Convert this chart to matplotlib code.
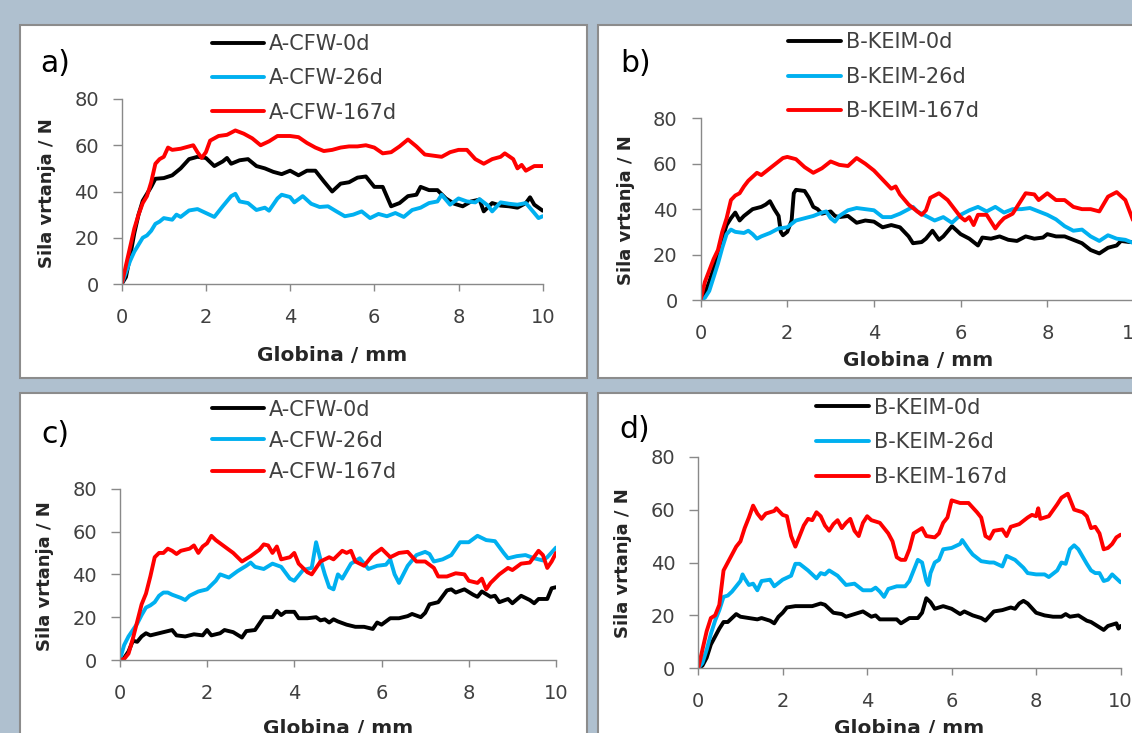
import matplotlib.pyplot as plt
from matplotlib.patches import Rectangle

# figure size in pixels (dpi 100)
W, H = 1132, 733

# ---- data: (globina mm, sila N) ----
A1_0D = [(0, 0), (0.1, 3), (0.2, 12), (0.3, 22), (0.4, 30), (0.5, 36), (0.6, 39), (0.7, 42), (0.8, 45.5),
         (1.0, 45.8), (1.2, 47), (1.4, 50), (1.6, 54), (1.8, 55), (2.0, 54.5), (2.2, 51), (2.4, 53), (2.5, 54.5),
         (2.6, 52), (2.8, 53.5), (3.0, 54), (3.2, 51), (3.4, 50), (3.6, 48.5), (3.8, 47.5), (4.0, 49), (4.2, 47),
         (4.4, 49), (4.6, 49), (4.8, 44.4), (5.0, 40), (5.2, 43.4), (5.4, 44), (5.6, 46), (5.8, 46.5), (6.0, 42),
         (6.2, 42), (6.4, 33.6), (6.6, 35), (6.8, 38), (7.0, 38.6), (7.1, 42), (7.3, 40.6), (7.5, 40.6), (7.7, 37),
         (7.9, 34.7), (8.1, 33.6), (8.3, 35.7), (8.5, 36.5), (8.6, 31.4), (8.8, 35), (9.0, 33.9), (9.2, 33.6),
         (9.4, 33), (9.6, 35), (9.7, 37.5), (9.8, 34.3), (10, 31.7)]
A1_26D = [(0, 0), (0.1, 5), (0.2, 10), (0.3, 14), (0.4, 17), (0.5, 20), (0.6, 21), (0.7, 23), (0.8, 26), (0.9, 27),
          (1.0, 28.5), (1.2, 27.8), (1.3, 30), (1.4, 29), (1.6, 31.8), (1.8, 32.4), (2.0, 30.7), (2.2, 29),
          (2.4, 33.6), (2.6, 38), (2.7, 39), (2.8, 35.7), (3.0, 35), (3.2, 32), (3.4, 33), (3.5, 31.7), (3.7, 37),
          (3.8, 38.6), (4.0, 37.6), (4.1, 35.3), (4.3, 38), (4.5, 34.7), (4.7, 33.3), (4.9, 33.6), (5.1, 31.4),
          (5.3, 29.3), (5.5, 30), (5.7, 31.4), (5.9, 28.5), (6.1, 30.3), (6.3, 29.3), (6.5, 30.7), (6.7, 29),
          (6.9, 32), (7.1, 33), (7.3, 35), (7.5, 35.7), (7.6, 38.6), (7.8, 34.3), (8.0, 37), (8.2, 35.7),
          (8.4, 35.3), (8.5, 36.7), (8.7, 33.9), (8.8, 31.4), (9.0, 35.3), (9.2, 34.7), (9.4, 34.3), (9.6, 35),
          (9.8, 30.7), (9.9, 28.5), (10, 29.3)]
A1_167D = [(0, 0), (0.1, 8), (0.2, 16), (0.3, 24), (0.4, 30), (0.5, 35), (0.6, 38), (0.7, 44), (0.8, 52), (0.9, 54),
           (1.0, 55), (1.1, 59), (1.2, 58), (1.4, 58.5), (1.6, 59.5), (1.7, 60), (1.8, 57), (1.9, 54.5), (2.0, 57),
           (2.1, 62), (2.3, 64), (2.5, 64.5), (2.7, 66.4), (2.9, 65), (3.1, 63), (3.3, 60), (3.5, 61.7), (3.7, 64),
           (4.0, 64), (4.2, 63.5), (4.4, 61), (4.6, 59), (4.8, 57.5), (5.0, 58), (5.2, 59), (5.4, 59.5),
           (5.6, 59.5), (5.8, 60), (6.0, 59), (6.2, 56.5), (6.4, 57), (6.6, 59.5), (6.8, 62.5), (7.0, 59.5),
           (7.2, 56), (7.4, 55.5), (7.6, 55), (7.8, 57), (8.0, 58), (8.2, 58), (8.4, 54), (8.6, 52), (8.8, 54),
           (9.0, 55), (9.1, 56.5), (9.3, 54), (9.4, 50), (9.5, 51.5), (9.6, 49), (9.8, 51), (10, 51)]

B1_0D = [(0, 0), (0.1, 3), (0.2, 8), (0.3, 14), (0.4, 20), (0.5, 27), (0.6, 33), (0.7, 36), (0.8, 38.5), (0.9, 35),
         (1.0, 37), (1.1, 38.5), (1.2, 40), (1.4, 41), (1.5, 42), (1.6, 43.5), (1.7, 40), (1.8, 37), (1.85, 30),
         (1.9, 28.5), (2.0, 30), (2.1, 35), (2.15, 47), (2.2, 48.5), (2.4, 48), (2.5, 45), (2.6, 41), (2.7, 40),
         (2.8, 38), (3.0, 39), (3.1, 37), (3.2, 36.5), (3.4, 37), (3.6, 34), (3.8, 35), (4.0, 34.5), (4.2, 32),
         (4.4, 33), (4.6, 32), (4.8, 28), (4.9, 25), (5.1, 25.5), (5.2, 27), (5.35, 30.5), (5.5, 26.5), (5.6, 28),
         (5.8, 32.5), (6.0, 29), (6.2, 27), (6.4, 24), (6.5, 27.5), (6.7, 27), (6.9, 28), (7.1, 26.5), (7.3, 26),
         (7.5, 28), (7.7, 27), (7.9, 27.5), (8.0, 29), (8.2, 28), (8.4, 28), (8.6, 26.5), (8.8, 25), (9.0, 22),
         (9.2, 20.5), (9.4, 23), (9.6, 24), (9.7, 26), (9.9, 25.5), (10, 25.5)]
B1_26D = [(0, 0), (0.1, 1), (0.2, 4), (0.3, 10), (0.4, 16), (0.5, 23), (0.6, 29), (0.7, 31), (0.8, 30), (1.0, 29.5),
          (1.1, 30.5), (1.2, 29), (1.3, 27), (1.4, 28), (1.6, 29.5), (1.8, 31.5), (2.0, 32), (2.2, 35), (2.4, 36),
          (2.6, 37), (2.8, 38.5), (2.9, 39), (3.0, 36), (3.1, 34.5), (3.2, 37), (3.4, 39.5), (3.6, 40.5), (3.8, 40),
          (4.0, 39.5), (4.2, 36.5), (4.4, 36.5), (4.6, 38), (4.8, 40), (4.9, 41), (5.0, 39), (5.2, 37), (5.4, 35),
          (5.6, 36.5), (5.8, 34), (6.0, 37.5), (6.2, 39.5), (6.4, 41), (6.6, 39), (6.8, 41), (7.0, 38.5), (7.2, 40),
          (7.4, 40), (7.6, 40.5), (7.8, 39), (8.0, 37.5), (8.2, 35.5), (8.4, 32.5), (8.6, 30.5), (8.8, 31),
          (9.0, 28), (9.2, 26), (9.4, 28.5), (9.6, 27), (9.8, 26.5), (10, 25)]
B1_167D = [(0, 0), (0.1, 8), (0.2, 13), (0.3, 18), (0.4, 22), (0.5, 30), (0.6, 36), (0.7, 44), (0.8, 46), (0.9, 47),
           (1.0, 50), (1.1, 52.5), (1.3, 56), (1.4, 55), (1.5, 56.5), (1.7, 59.5), (1.9, 62.5), (2.0, 63),
           (2.2, 62), (2.4, 58.5), (2.6, 56), (2.8, 58), (3.0, 61), (3.2, 59.5), (3.4, 59), (3.6, 62.5), (3.8, 60),
           (4.0, 57), (4.2, 53), (4.4, 49), (4.5, 50), (4.6, 46.5), (4.8, 42), (5.0, 39), (5.1, 37.5), (5.2, 39.5),
           (5.3, 45), (5.5, 47), (5.7, 44), (5.9, 39), (6.0, 36.5), (6.1, 35), (6.2, 36.5), (6.3, 33), (6.4, 37.5),
           (6.6, 37.5), (6.8, 31.5), (6.9, 34), (7.0, 36), (7.2, 38), (7.4, 44), (7.5, 47), (7.7, 46.5), (7.8, 44),
           (8.0, 47), (8.2, 44), (8.4, 44), (8.6, 41), (8.8, 40), (9.0, 40), (9.2, 39), (9.4, 45.5), (9.6, 47.5),
           (9.8, 44), (9.9, 39), (10, 34)]

A2_0D = [(0, 0), (0.1, 1), (0.2, 4), (0.3, 9), (0.4, 8.5), (0.5, 11), (0.6, 12.5), (0.7, 11.5), (0.8, 12), (1.0, 13),
         (1.2, 14), (1.3, 11.5), (1.5, 11), (1.7, 12), (1.9, 11.5), (2.0, 14), (2.1, 11.5), (2.3, 12.5), (2.4, 14),
         (2.6, 13), (2.8, 10.5), (2.9, 13.5), (3.1, 14), (3.3, 20), (3.5, 20), (3.6, 23), (3.7, 21), (3.8, 22.5),
         (4.0, 22.5), (4.1, 19.5), (4.3, 19.5), (4.5, 20), (4.6, 18.5), (4.7, 19), (4.8, 17.5), (4.9, 19), (5.0, 18),
         (5.2, 16.5), (5.4, 15.5), (5.6, 15.5), (5.8, 14.5), (5.9, 17.5), (6.0, 16.5), (6.2, 19.5), (6.4, 19.5),
         (6.6, 20.5), (6.7, 21.5), (6.9, 20), (7.0, 22), (7.1, 26), (7.3, 27), (7.5, 32.5), (7.6, 33), (7.7, 31.5),
         (7.9, 33), (8.1, 30.5), (8.2, 29.5), (8.3, 32), (8.5, 29.5), (8.6, 30), (8.7, 27), (8.9, 28.5), (9.0, 26.5),
         (9.2, 30), (9.4, 28), (9.5, 26.5), (9.6, 28.5), (9.8, 28.5), (9.9, 33.5), (10, 34)]
A2_26D = [(0, 0), (0.1, 7), (0.2, 11), (0.3, 14), (0.4, 17), (0.5, 21), (0.6, 24.5), (0.7, 25.5), (0.8, 27), (0.9, 30),
          (1.0, 31.5), (1.1, 31.5), (1.2, 30.5), (1.4, 29), (1.5, 28), (1.6, 30), (1.8, 32), (2.0, 33), (2.2, 37),
          (2.3, 40), (2.5, 38.5), (2.7, 41.5), (2.9, 44), (3.0, 45.5), (3.1, 43.5), (3.3, 42.5), (3.5, 45),
          (3.7, 43.5), (3.9, 38), (4.0, 37), (4.2, 42), (4.4, 43), (4.5, 55), (4.6, 47), (4.7, 40), (4.8, 34),
          (4.9, 33), (5.0, 40), (5.1, 38), (5.3, 45), (5.5, 47.5), (5.7, 42.5), (5.9, 44), (6.1, 44.5), (6.2, 47),
          (6.3, 40), (6.4, 36), (6.5, 40), (6.6, 44), (6.8, 49), (7.0, 50.5), (7.1, 49.5), (7.2, 46), (7.4, 47),
          (7.6, 49), (7.8, 55), (8.0, 55), (8.2, 58), (8.4, 56), (8.6, 55.5), (8.8, 50), (8.9, 47.5), (9.1, 48.5),
          (9.3, 49), (9.5, 47.5), (9.7, 46.5), (9.8, 48), (10, 52.5)]
A2_167D = [(0, 0), (0.1, 0.5), (0.2, 3), (0.3, 10), (0.4, 18), (0.5, 26), (0.6, 31), (0.7, 39), (0.8, 48), (0.9, 50),
           (1.0, 50), (1.1, 52), (1.2, 51), (1.3, 49.5), (1.4, 51), (1.6, 52), (1.7, 53.5), (1.8, 50), (1.9, 53),
           (2.0, 54.5), (2.1, 58), (2.2, 56), (2.4, 53), (2.6, 50), (2.8, 46), (3.0, 48.5), (3.2, 51.5), (3.3, 54),
           (3.4, 53.5), (3.5, 50), (3.6, 53), (3.7, 47), (3.9, 48), (4.0, 50), (4.1, 45), (4.3, 41), (4.4, 40),
           (4.6, 46), (4.8, 48), (4.9, 47), (5.1, 51), (5.2, 50), (5.3, 51), (5.4, 46), (5.6, 44), (5.8, 49),
           (6.0, 52), (6.2, 48), (6.4, 50), (6.6, 50.5), (6.8, 46), (7.0, 46), (7.2, 43), (7.3, 39), (7.5, 39),
           (7.7, 40.5), (7.9, 40), (8.0, 37), (8.2, 36), (8.3, 38), (8.4, 33), (8.5, 36), (8.7, 40), (8.9, 43),
           (9.0, 42), (9.2, 45), (9.4, 45.5), (9.6, 51), (9.7, 49), (9.8, 43), (9.9, 46), (10, 50)]

B2_0D = [(0, 0), (0.1, 1), (0.2, 4), (0.3, 9), (0.4, 12), (0.5, 15), (0.6, 17.5), (0.7, 17.5), (0.8, 19), (0.9, 20.5),
         (1.0, 19.5), (1.2, 19), (1.4, 18.5), (1.5, 19), (1.7, 18), (1.8, 17), (1.9, 19.5), (2.0, 21), (2.1, 23),
         (2.3, 23.5), (2.5, 23.5), (2.7, 23.5), (2.9, 24.5), (3.0, 24), (3.1, 22.5), (3.2, 21), (3.4, 20.5),
         (3.5, 19.5), (3.7, 20.5), (3.9, 21.5), (4.0, 20.5), (4.1, 19.5), (4.2, 20), (4.3, 18.5), (4.5, 18.5),
         (4.7, 18.5), (4.8, 17), (5.0, 19), (5.2, 19), (5.3, 21), (5.4, 26.5), (5.5, 25), (5.6, 22.5), (5.8, 23.5),
         (6.0, 22.5), (6.2, 20.5), (6.3, 21.5), (6.5, 20), (6.7, 19), (6.8, 18), (7.0, 21.5), (7.2, 22), (7.4, 23),
         (7.5, 22.5), (7.6, 24.5), (7.7, 25.5), (7.8, 24.5), (8.0, 21), (8.2, 20), (8.4, 19.5), (8.6, 19.5),
         (8.7, 20.5), (8.8, 19.5), (9.0, 20), (9.2, 18), (9.3, 17.5), (9.4, 16.5), (9.6, 14.5), (9.7, 16), (9.9, 17),
         (9.95, 15), (10, 16)]
B2_26D = [(0, 0), (0.1, 2), (0.2, 7), (0.3, 13), (0.4, 18), (0.5, 22), (0.6, 27), (0.7, 27.5), (0.8, 29), (0.9, 31),
          (1.0, 33), (1.05, 35.5), (1.1, 34), (1.2, 31.5), (1.3, 32), (1.4, 29.5), (1.5, 33), (1.7, 33.5), (1.8, 31),
          (2.0, 33.5), (2.2, 35), (2.3, 39.5), (2.4, 39.5), (2.6, 37), (2.8, 34), (2.9, 36), (3.0, 35.5), (3.1, 37),
          (3.3, 35), (3.5, 31.5), (3.7, 32), (3.9, 29.5), (4.1, 29.5), (4.2, 30.5), (4.3, 29), (4.4, 27), (4.5, 30),
          (4.7, 31), (4.9, 31), (5.0, 33), (5.1, 37), (5.2, 41), (5.3, 40), (5.4, 33), (5.45, 31.5), (5.5, 36),
          (5.6, 40), (5.7, 41), (5.8, 45), (6.0, 45.5), (6.2, 47), (6.25, 48.5), (6.4, 45), (6.5, 43), (6.7, 40.5),
          (6.9, 40), (7.0, 40), (7.2, 38.5), (7.3, 42.5), (7.5, 41), (7.7, 38), (7.8, 36), (8.0, 35.5), (8.2, 35.5),
          (8.3, 34.5), (8.5, 37), (8.6, 40), (8.7, 39.5), (8.8, 45), (8.9, 46.5), (9.0, 45), (9.2, 39.5), (9.3, 37),
          (9.4, 36), (9.5, 36), (9.6, 33), (9.7, 33.5), (9.8, 35.5), (9.9, 34), (10, 32.5)]
B2_167D = [(0, 0), (0.1, 7), (0.2, 14), (0.3, 19), (0.4, 20), (0.5, 24), (0.6, 37), (0.7, 40), (0.8, 43), (0.9, 46),
           (1.0, 48), (1.1, 53), (1.2, 57), (1.3, 61.5), (1.4, 58.5), (1.5, 56.5), (1.6, 58.5), (1.8, 59.5),
           (1.85, 60.5), (2.0, 58), (2.1, 57.5), (2.2, 50), (2.3, 46), (2.4, 50), (2.5, 54), (2.6, 56.5), (2.7, 56),
           (2.8, 59), (2.9, 57.5), (3.0, 54), (3.1, 52), (3.2, 54.5), (3.3, 56), (3.4, 53), (3.5, 55), (3.6, 56.5),
           (3.7, 52), (3.8, 50), (3.9, 55), (4.0, 57.5), (4.1, 56), (4.3, 55), (4.5, 51), (4.6, 48), (4.7, 42),
           (4.8, 41), (4.9, 41), (5.0, 45), (5.1, 51), (5.3, 53), (5.4, 50), (5.6, 49.5), (5.7, 51), (5.8, 55),
           (5.9, 57), (6.0, 63.5), (6.2, 62.5), (6.4, 62.5), (6.6, 59), (6.7, 57), (6.8, 50), (6.9, 49), (7.0, 52),
           (7.2, 52.5), (7.3, 50), (7.4, 53.5), (7.6, 54.5), (7.8, 57), (7.9, 58), (8.0, 57.5), (8.05, 60.5),
           (8.1, 56.5), (8.3, 57.5), (8.5, 62), (8.6, 64.5), (8.75, 66), (8.8, 64), (8.9, 60), (9.1, 59), (9.2, 57.5),
           (9.3, 53), (9.4, 53.5), (9.5, 51), (9.6, 45), (9.7, 45.5), (9.8, 47), (9.9, 49.5), (10, 50.5)]

A_LABELS = ['A-CFW-0d', 'A-CFW-26d', 'A-CFW-167d']
B_LABELS = ['B-KEIM-0d', 'B-KEIM-26d', 'B-KEIM-167d']
X_TICKS = [0, 2, 4, 6, 8, 10]
Y_TICKS = [0, 20, 40, 60, 80]
LINE_COLORS = ['#000000', '#00B0F0', '#FF0000']

# ---- layout in pixels of the screenshot ----
PANELS = [
    dict(letter='a)', series=[A1_0D, A1_26D, A1_167D], labels=A_LABELS,
         frame=(19.5, 25, 587, 378), axes=(121.7, 99, 542.7, 284),
         leg=(211.6, 34, 0.69), letter_xy=(55.5, 63), ylab=(47, 193), xlab=(332, 356)),
    dict(letter='b)', series=[B1_0D, B1_26D, B1_167D], labels=B_LABELS,
         frame=(598.3, 25, 1150, 378), axes=(700.6, 118.3, 1134, 300),
         leg=(788, 32.5, 0.69), letter_xy=(636, 63), ylab=(626, 210), xlab=(918, 360)),
    dict(letter='c)', series=[A2_0D, A2_26D, A2_167D], labels=A_LABELS,
         frame=(19.5, 393.3, 587, 750), axes=(119.8, 488.7, 556, 660),
         leg=(211.6, 399.5, 0.54), letter_xy=(55.5, 435), ylab=(45, 576), xlab=(338.6, 728)),
    dict(letter='d)', series=[B2_0D, B2_26D, B2_167D], labels=B_LABELS,
         frame=(598.3, 393.3, 1150, 750), axes=(698.2, 456.7, 1120.6, 668.3),
         leg=(816.4, 397.5, 0.71), letter_xy=(634.6, 430), ylab=(623, 563), xlab=(909, 728)),
]

BG = '#AFC0CF'
AXIS_GRAY = '#898989'
TEXT_GRAY = '#404040'

plt.rcParams['font.family'] = ['DejaVu Sans']


def fx(x):
    return x / W


def fy(y):
    return 1 - y / H


fig = plt.figure(figsize=(W / 100, H / 100), dpi=100, facecolor=BG)

for p in PANELS:
    l, t, r, b = p['frame']
    fig.add_artist(Rectangle((fx(l), fy(b)), (r - l) / W, (b - t) / H, transform=fig.transFigure,
                             facecolor='white', edgecolor='#8C8C8C', linewidth=1.5, zorder=-5))

    l, t, r, b = p['axes']
    ax = fig.add_axes([fx(l), fy(b), (r - l) / W, (b - t) / H])
    ax.patch.set_visible(False)

    for pts, lab, col in zip(p['series'], p['labels'], LINE_COLORS):
        xs = [q[0] for q in pts]
        ys = [q[1] for q in pts]
        ax.plot(xs, ys, color=col, lw=2.8, label=lab, solid_joinstyle='round', solid_capstyle='round')

    ax.set_xlim(0, 10)
    ax.set_ylim(0, 80)
    ax.set_xticks(X_TICKS)
    ax.set_yticks(Y_TICKS)
    for s in ['top', 'right']:
        ax.spines[s].set_visible(False)
    for s in ['left', 'bottom']:
        ax.spines[s].set_color(AXIS_GRAY)
        ax.spines[s].set_linewidth(1)
    ax.tick_params(axis='y', direction='out', length=6.5, width=1, color=AXIS_GRAY,
                   pad=10, labelsize=14, labelcolor=TEXT_GRAY)
    ax.tick_params(axis='x', direction='out', length=5, width=1, color=AXIS_GRAY,
                   pad=12, labelsize=14, labelcolor=TEXT_GRAY)

    ax.set_xlabel('Globina / mm', fontsize=14.5, fontweight='bold', color='#262626', va='center')
    ax.set_ylabel('Sila vrtanja / N', fontsize=13, fontweight='bold', color='#262626', va='center')
    ax.xaxis.set_label_coords(fx(p['xlab'][0]), fy(p['xlab'][1]), transform=fig.transFigure)
    ax.yaxis.set_label_coords(fx(p['ylab'][0]), fy(p['ylab'][1]), transform=fig.transFigure)

    lx, ly, sp = p['leg']
    ax.legend(loc='upper left', bbox_to_anchor=(fx(lx), fy(ly)), bbox_transform=fig.transFigure,
              frameon=False, borderpad=0, borderaxespad=0, handlelength=2.52, handletextpad=0.24,
              labelspacing=sp, prop={'size': 15}, labelcolor=TEXT_GRAY)

    fig.text(fx(p['letter_xy'][0]), fy(p['letter_xy'][1]), p['letter'], fontsize=21.5,
             ha='center', va='center', color='#000000')

fig.savefig('out.png', dpi=100, facecolor=BG)
